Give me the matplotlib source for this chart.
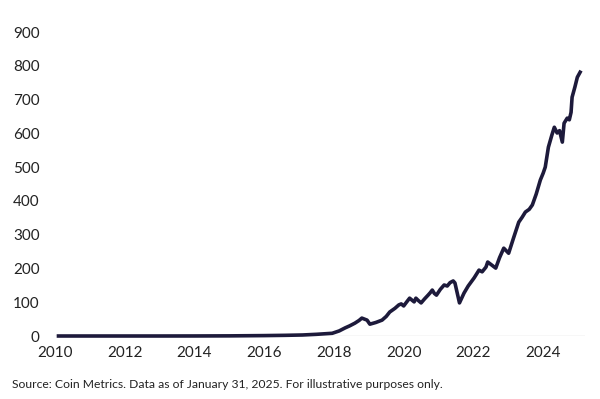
import matplotlib
matplotlib.use("Agg")
from matplotlib import pyplot as plt

plt.rcParams['font.family'] = ['Lato', 'DejaVu Sans']

# hashrate-like series (year, value)
years = [2010.1, 2011.0, 2012.0, 2013.0, 2014.0, 2015.0, 2016.0, 2016.6, 2017.1,
         2017.5, 2017.95, 2018.15, 2018.32, 2018.45, 2018.6, 2018.72, 2018.8,
         2018.95, 2019.03, 2019.2, 2019.38, 2019.5, 2019.6, 2019.75, 2019.86,
         2019.93, 2020.0, 2020.08, 2020.17, 2020.24, 2020.3, 2020.35, 2020.42,
         2020.5, 2020.6, 2020.7, 2020.76, 2020.82, 2020.88, 2020.94, 2021.05,
         2021.16, 2021.25, 2021.33, 2021.42, 2021.47, 2021.6, 2021.73, 2021.85,
         2022.02, 2022.16, 2022.25, 2022.36, 2022.41, 2022.5, 2022.64, 2022.75,
         2022.87, 2023.01, 2023.15, 2023.3, 2023.4, 2023.49, 2023.6, 2023.69,
         2023.8, 2023.92, 2024.0, 2024.06, 2024.15, 2024.25, 2024.32, 2024.4,
         2024.47, 2024.55, 2024.6, 2024.69, 2024.75, 2024.8, 2024.83, 2024.91,
         2024.98, 2025.06]
values = [0, 0, 0, 0, 0.1, 0.4, 1.2, 2, 3,
          5, 8, 15, 24, 30, 38, 46, 53,
          47, 35, 40, 47, 58, 71, 82, 92,
          95, 89, 100, 112, 106, 101, 112, 105,
          98, 110, 121, 128, 136, 126, 121, 138,
          151, 148, 158, 163, 157, 98, 127, 148,
          172, 195, 190, 204, 219, 212, 201, 232,
          260, 245, 290, 337, 352, 367, 375, 388,
          420, 462, 482, 500, 559, 595, 618, 601,
          608, 574, 630, 645, 640, 662, 707, 737,
          766, 781]

x_ticks = [2010, 2012, 2014, 2016, 2018, 2020, 2022, 2024]
y_ticks = [0, 100, 200, 300, 400, 500, 600, 700, 800, 900]
source = "Source: Coin Metrics. Data as of January 31, 2025. For illustrative purposes only."

fig = plt.figure(figsize=(6, 3.99), dpi=100)
ax = fig.add_axes([55 / 600, 1 - 336 / 399, 530 / 600, 304 / 399])

ax.axhline(0, color="#d9d9d9", lw=1, zorder=1)
ax.plot(years, values, color="#1d1a3b", lw=2.6, solid_joinstyle="round",
        clip_on=False, zorder=3)

ax.set_xlim(2010.14, 2025.2)
ax.set_ylim(0, 900)
ax.set_xticks(x_ticks)
ax.set_yticks(y_ticks)
ax.tick_params(length=0, labelsize=11, colors="#222222")
ax.tick_params(axis="y", pad=11)
ax.tick_params(axis="x", pad=7)
for s in ax.spines.values():
    s.set_visible(False)

fig.text(12 / 600, 1 - 385 / 399, source, fontsize=8.7, color="#222222",
         va="center", ha="left")

fig.savefig("out.png", dpi=100)
